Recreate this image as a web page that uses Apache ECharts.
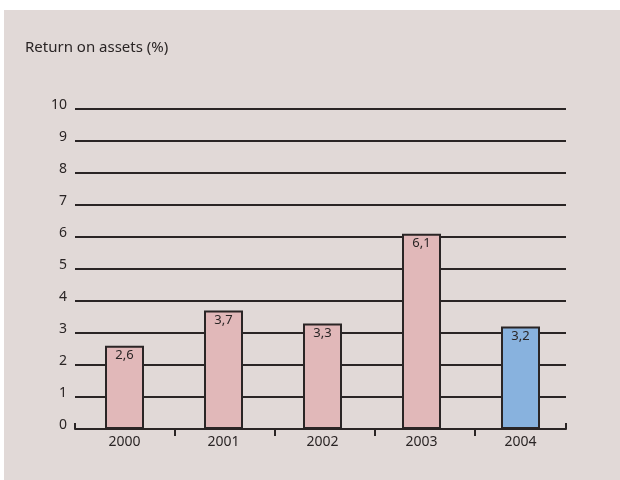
<!DOCTYPE html>
<html>
<head>
<meta charset="utf-8">
<script src="https://cdn.jsdelivr.net/npm/echarts@6/dist/echarts.min.js"></script>
<style>
  html, body { margin: 0; padding: 0; background: #ffffff; }
  #chart { width: 620px; height: 480px; }
</style>
</head>
<body>
<div id="chart"></div>
<script>
// Return on assets by year, in percent
const years = ['2000', '2001', '2002', '2003', '2004'];
const returnOnAssets = [2.6, 3.7, 3.3, 6.1, 3.2];
const highlightYear = '2004';
const chartTitle = 'Return on assets (%)';

const ink = '#2a2525';
const panel = '#e1d9d7';
const barPink = '#e1b8b9';
const barBlue = '#88b2de';
const font = '"Noto Sans", "Open Sans", sans-serif';

const chart = echarts.init(document.getElementById('chart'));

const lineStyle = { color: ink, width: 2 };

chart.setOption({
  backgroundColor: '#ffffff',
  animation: false,
  textStyle: { fontFamily: font },
  graphic: [{
    type: 'rect',
    z: -100,
    silent: true,
    shape: { x: 4, y: 10, width: 616, height: 470 },
    style: { fill: panel }
  }],
  title: {
    text: chartTitle,
    left: 20,
    top: 35,
    textStyle: { color: ink, fontSize: 15, fontWeight: 'normal', fontFamily: font }
  },
  grid: [
    // bars and year labels
    { left: 75, top: 109, width: 495, height: 320 },
    // gridlines, value labels and the base axis
    { left: 75, top: 109, width: 491, height: 320 }
  ],
  xAxis: [
    {
      gridIndex: 0,
      type: 'category',
      data: years,
      axisLine: { show: false },
      axisTick: { show: false },
      splitLine: { show: false },
      axisLabel: { color: ink, fontSize: 14, margin: 6, fontFamily: font }
    },
    {
      gridIndex: 1,
      type: 'value',
      position: 'bottom',
      min: 0, max: 1, interval: 1,
      axisLine: { show: true, lineStyle: lineStyle },
      axisTick: { show: true, inside: true, length: 6, lineStyle: lineStyle },
      axisLabel: { show: false },
      splitLine: { show: false }
    },
    {
      gridIndex: 1,
      type: 'value',
      position: 'bottom',
      min: 0, max: 4.91,
      axisLine: { show: false },
      axisTick: { show: true, length: 7, customValues: [1, 2, 3, 4], lineStyle: lineStyle },
      axisLabel: { show: false },
      splitLine: { show: false }
    }
  ],
  yAxis: [
    { gridIndex: 0, type: 'value', min: 0, max: 10, interval: 1, show: false },
    {
      gridIndex: 1,
      type: 'value',
      min: 0, max: 10, interval: 1,
      axisLine: { show: false },
      axisTick: { show: false },
      axisLabel: {
        color: ink, fontSize: 14, margin: 8,
        verticalAlign: 'bottom', lineHeight: 8, fontFamily: font
      },
      splitLine: { show: true, lineStyle: lineStyle }
    }
  ],
  series: [{
    type: 'bar',
    xAxisIndex: 0,
    yAxisIndex: 0,
    barWidth: 39,
    data: returnOnAssets.map((v, i) => ({
      value: v,
      itemStyle: { color: years[i] === highlightYear ? barBlue : barPink }
    })),
    itemStyle: { borderColor: ink, borderWidth: 2 },
    label: {
      show: true,
      position: 'insideTop',
      distance: 3,
      color: ink,
      fontSize: 13,
      fontFamily: font,
      formatter: p => p.value.toFixed(1).replace('.', ',')
    }
  }]
});
</script>
</body>
</html>
